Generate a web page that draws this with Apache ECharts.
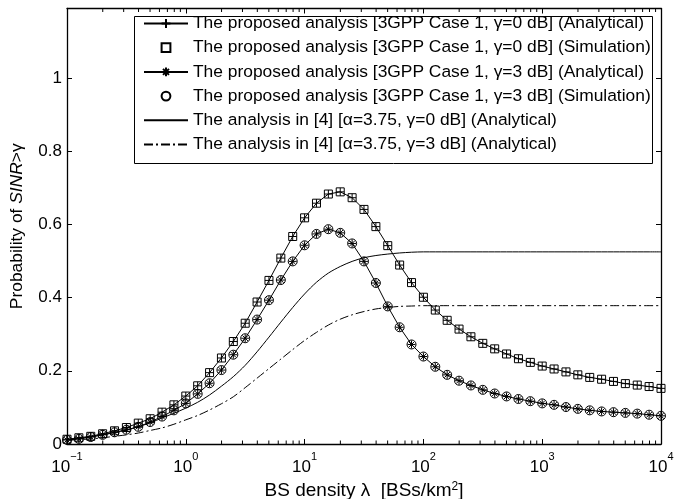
<!DOCTYPE html>
<html>
<head>
<meta charset="utf-8">
<script src="https://cdn.jsdelivr.net/npm/echarts@6/dist/echarts.min.js"></script>
<style>html,body{margin:0;padding:0;background:#fff}#c{width:680px;height:499px}</style>
</head>
<body>
<div id="c"></div>
<script>
// BS density samples (BSs/km^2), 10 per decade
const lambda = [0.1, 0.1259, 0.1585, 0.1995, 0.2512, 0.3162, 0.3981, 0.5012, 0.631, 0.7943,
  1, 1.259, 1.585, 1.995, 2.512, 3.162, 3.981, 5.012, 6.31, 7.943,
  10, 12.59, 15.85, 19.95, 25.12, 31.62, 39.81, 50.12, 63.1, 79.43,
  100, 125.9, 158.5, 199.5, 251.2, 316.2, 398.1, 501.2, 631, 794.3,
  1000, 1259, 1585, 1995, 2512, 3162, 3981, 5012, 6310, 7943, 10000];

const prop0Ana = [0.013, 0.017, 0.021, 0.028, 0.036, 0.045, 0.057, 0.069, 0.087, 0.107,
  0.131, 0.159, 0.195, 0.235, 0.280, 0.330, 0.388, 0.447, 0.508, 0.567,
  0.618, 0.658, 0.683, 0.689, 0.673, 0.641, 0.594, 0.542, 0.489, 0.441,
  0.401, 0.366, 0.338, 0.314, 0.293, 0.275, 0.260, 0.246, 0.233, 0.223,
  0.213, 0.205, 0.197, 0.189, 0.182, 0.177, 0.171, 0.165, 0.161, 0.157, 0.152];
const prop0Sim = [0.013, 0.017, 0.021, 0.028, 0.036, 0.045, 0.057, 0.069, 0.087, 0.107,
  0.131, 0.159, 0.195, 0.235, 0.280, 0.330, 0.388, 0.447, 0.508, 0.567,
  0.618, 0.658, 0.683, 0.689, 0.673, 0.641, 0.594, 0.542, 0.489, 0.441,
  0.401, 0.366, 0.338, 0.314, 0.293, 0.275, 0.260, 0.246, 0.233, 0.223,
  0.213, 0.205, 0.197, 0.189, 0.182, 0.177, 0.171, 0.165, 0.161, 0.157, 0.152];
const prop3Ana = [0.011, 0.014, 0.019, 0.025, 0.032, 0.039, 0.047, 0.060, 0.075, 0.092,
  0.111, 0.137, 0.166, 0.202, 0.244, 0.289, 0.340, 0.393, 0.448, 0.499,
  0.543, 0.574, 0.587, 0.577, 0.548, 0.499, 0.440, 0.376, 0.319, 0.272,
  0.239, 0.211, 0.189, 0.173, 0.160, 0.148, 0.138, 0.130, 0.123, 0.117,
  0.111, 0.107, 0.101, 0.096, 0.092, 0.089, 0.087, 0.085, 0.083, 0.080, 0.077];
const prop3Sim = [0.011, 0.014, 0.019, 0.025, 0.032, 0.039, 0.047, 0.060, 0.075, 0.092,
  0.111, 0.137, 0.166, 0.202, 0.244, 0.289, 0.340, 0.393, 0.448, 0.499,
  0.543, 0.574, 0.587, 0.577, 0.548, 0.499, 0.440, 0.376, 0.319, 0.272,
  0.239, 0.211, 0.189, 0.173, 0.160, 0.148, 0.138, 0.130, 0.123, 0.117,
  0.111, 0.107, 0.101, 0.096, 0.092, 0.089, 0.087, 0.085, 0.083, 0.080, 0.077];
const ref0 = [0.012, 0.015, 0.020, 0.025, 0.031, 0.038, 0.047, 0.058, 0.071, 0.084,
  0.098, 0.114, 0.134, 0.158, 0.184, 0.215, 0.252, 0.292, 0.333, 0.373,
  0.410, 0.442, 0.467, 0.485, 0.499, 0.509, 0.515, 0.519, 0.522, 0.524,
  0.525, 0.525, 0.525, 0.525, 0.525, 0.525, 0.525, 0.525, 0.525, 0.525,
  0.525, 0.525, 0.525, 0.525, 0.525, 0.525, 0.525, 0.525, 0.525, 0.525, 0.525];
const ref3 = [0.010, 0.012, 0.014, 0.017, 0.021, 0.025, 0.030, 0.037, 0.044, 0.054,
  0.066, 0.078, 0.093, 0.110, 0.129, 0.154, 0.180, 0.206, 0.232, 0.258,
  0.283, 0.305, 0.325, 0.341, 0.353, 0.362, 0.369, 0.373, 0.376, 0.377,
  0.378, 0.378, 0.378, 0.378, 0.378, 0.378, 0.378, 0.378, 0.378, 0.378,
  0.378, 0.378, 0.378, 0.378, 0.378, 0.378, 0.378, 0.378, 0.378, 0.378, 0.378];

const seriesNames = [
  'The proposed analysis [3GPP Case 1, \u03b3=0 dB] (Analytical)',
  'The proposed analysis [3GPP Case 1, \u03b3=0 dB] (Simulation)',
  'The proposed analysis [3GPP Case 1, \u03b3=3 dB] (Analytical)',
  'The proposed analysis [3GPP Case 1, \u03b3=3 dB] (Simulation)',
  'The analysis in [4] [\u03b1=3.75, \u03b3=0 dB] (Analytical)',
  'The analysis in [4] [\u03b1=3.75, \u03b3=3 dB] (Analytical)'
];
const yTickLabels = {0: '0', 1: '0.2', 2: '0.4', 3: '0.6', 4: '0.8', 5: '1'};
const xTickExponents = {'-1': '\u22121', '0': '0', '1': '1', '2': '2', '3': '3', '4': '4'};
const minorTickVals = [0.2,0.3,0.4,0.5,0.6,0.7,0.8,0.9, 2,3,4,5,6,7,8,9, 20,30,40,50,60,70,80,90,
  200,300,400,500,600,700,800,900, 2000,3000,4000,5000,6000,7000,8000,9000];

const X_MIN = 0.1, X_MAX = 10000, Y_MIN = 0, Y_MAX = 1.19;
const FONT = 'Liberation Sans, Arial, sans-serif';
const CLEAR = 'rgba(0,0,0,0)';

function pairs(ys) { return lambda.map((x, i) => [x, ys[i]]); }

const plusPath = 'path://M0,5L10,5M5,0L5,10';
const starPath = 'path://M0,5L10,5M5,0L5,10M1.6,1.6L8.4,8.4M1.6,8.4L8.4,1.6';

const chart = echarts.init(document.getElementById('c'), null, {renderer: 'canvas'});

const axisCommon = {
  axisLine: {show: true, onZero: false, lineStyle: {color: '#000', width: 1.3}},
  axisTick: {show: true, inside: true, length: 5, lineStyle: {color: '#000', width: 1}},
  splitLine: {show: false},
  minorTick: {show: false}
};

chart.setOption({
  animation: false,
  backgroundColor: '#fff',
  textStyle: {fontFamily: FONT},
  grid: {left: 67, right: 19, top: 8.5, bottom: 55, containLabel: false, outerBoundsMode: 'none'},
  xAxis: [
    Object.assign({
      type: 'log', logBase: 10, min: X_MIN, max: X_MAX, position: 'bottom',
      name: '{n|BS density \u03bb  [BSs/km}{s|2}{n|]}',
      nameLocation: 'middle', nameGap: 35,
      nameTextStyle: {rich: {
        n: {fontSize: 19, fontFamily: FONT, color: '#000', verticalAlign: 'bottom'},
        s: {fontSize: 12, fontFamily: FONT, color: '#000', verticalAlign: 'top'}
      }},
      axisLabel: {
        margin: 7,
        formatter: function (v) {
          const e = String(Math.round(Math.log10(v)));
          return '{b|10}{s|' + xTickExponents[e] + '}';
        },
        rich: {
          b: {fontSize: 17, fontFamily: FONT, color: '#000', verticalAlign: 'bottom', padding: [8, 0, 0, 0]},
          s: {fontSize: 11, fontFamily: FONT, color: '#000', verticalAlign: 'top'}
        }
      }
    }, axisCommon),
    Object.assign({
      type: 'log', logBase: 10, min: X_MIN, max: X_MAX, position: 'top',
      axisLabel: {show: false}
    }, axisCommon)
  ],
  yAxis: [
    Object.assign({
      type: 'value', min: Y_MIN, max: Y_MAX, interval: 0.2, position: 'left',
      name: '{n|Probability of }{i|SINR}{n|>\u03b3}',
      nameLocation: 'middle', nameGap: 41, nameRotate: 90,
      nameTextStyle: {rich: {
        n: {fontSize: 17.4, fontFamily: FONT, color: '#000'},
        i: {fontSize: 17.4, fontFamily: FONT, color: '#000', fontStyle: 'italic'}
      }},
      axisLabel: {
        margin: 5, fontSize: 17, color: '#000', fontFamily: FONT,
        formatter: function (v) {
          const k = Math.round(v / 0.2);
          if (Math.abs(v - k * 0.2) > 1e-6) return '';
          return yTickLabels[k] !== undefined ? yTickLabels[k] : '';
        }
      }
    }, axisCommon),
    Object.assign({
      type: 'value', min: Y_MIN, max: Y_MAX, interval: 0.2, position: 'right',
      axisLabel: {show: false}
    }, axisCommon)
  ],
  legend: {
    orient: 'vertical', left: 143, top: 11.5, padding: 0,
    itemWidth: 44, itemHeight: 11, itemGap: 0.2,
    data: seriesNames,
    textStyle: {fontSize: 17.4, fontFamily: FONT, color: '#000', lineHeight: 24},
    selectedMode: false, z: 10
  },
  graphic: [{
    type: 'rect', z: 9, silent: true,
    shape: {x: 134.5, y: 16.5, width: 518, height: 147},
    style: {fill: '#fff', stroke: '#000', lineWidth: 1}
  }],
  series: [
    {
      name: seriesNames[1], type: 'line', data: pairs(prop0Sim), z: 3,
      symbol: 'rect', symbolSize: 8, showAllSymbol: true,
      lineStyle: {width: 0, opacity: 0},
      itemStyle: {color: CLEAR, borderColor: '#000', borderWidth: 1}
    },
    {
      name: seriesNames[3], type: 'line', data: pairs(prop3Sim), z: 3,
      symbol: 'circle', symbolSize: 9, showAllSymbol: true,
      lineStyle: {width: 0, opacity: 0},
      itemStyle: {color: CLEAR, borderColor: '#000', borderWidth: 1}
    },
    {
      name: seriesNames[0], type: 'line', data: pairs(prop0Ana), z: 4,
      symbol: plusPath, symbolSize: 8, showAllSymbol: true,
      lineStyle: {color: '#000', width: 1},
      itemStyle: {color: '#000', borderColor: '#000', borderWidth: 1}
    },
    {
      name: seriesNames[2], type: 'line', data: pairs(prop3Ana), z: 4,
      symbol: starPath, symbolSize: 8, showAllSymbol: true,
      lineStyle: {color: '#000', width: 1},
      itemStyle: {color: '#000', borderColor: '#000', borderWidth: 1}
    },
    {
      name: seriesNames[4], type: 'line', data: pairs(ref0), z: 2,
      symbol: 'none', smooth: 0.3,
      lineStyle: {color: '#000', width: 1},
      itemStyle: {color: CLEAR, borderColor: CLEAR, borderWidth: 0}
    },
    {
      name: seriesNames[5], type: 'line', data: pairs(ref3), z: 2,
      symbol: 'none', smooth: 0.3,
      lineStyle: {color: '#000', width: 1, type: [9, 3, 2, 3]},
      itemStyle: {color: CLEAR, borderColor: CLEAR, borderWidth: 0}
    },
    {
      name: 'minorTicks', type: 'custom', silent: true, z: 5, clip: false,
      data: minorTickVals.map(v => [v]),
      encode: {x: 0},
      renderItem: function (params, api) {
        const x = api.value(0);
        const b = api.coord([x, Y_MIN]);
        const t = api.coord([x, Y_MAX]);
        const st = {stroke: '#000', lineWidth: 1};
        return {type: 'group', children: [
          {type: 'line', shape: {x1: b[0], y1: b[1], x2: b[0], y2: b[1] - 3.5}, style: st},
          {type: 'line', shape: {x1: t[0], y1: t[1], x2: t[0], y2: t[1] + 3.5}, style: st}
        ]};
      }
    }
  ]
});
</script>
</body>
</html>
